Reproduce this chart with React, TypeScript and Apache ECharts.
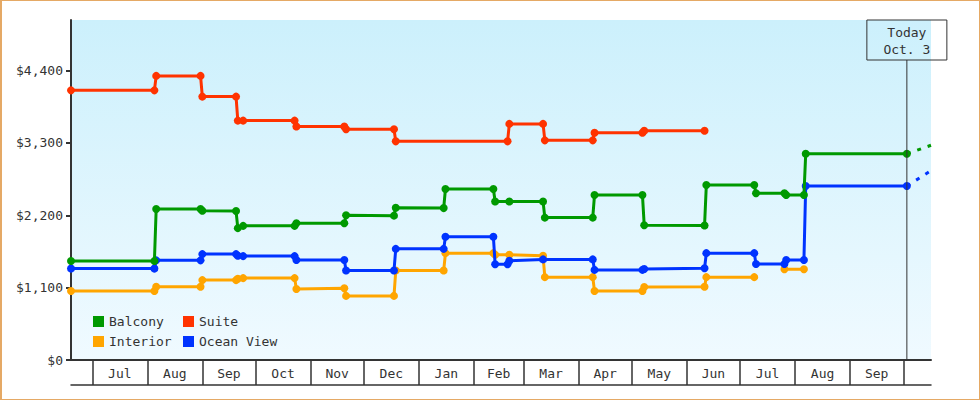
import React, { useEffect, useRef } from "react";
import * as echarts from "echarts";

const FONT = '"DejaVu Sans Mono", monospace';
const TEXT_COLOR = "#333333";

// Axis range
const X_MIN = "2013-06-19 00:00";
const X_MAX = "2014-10-16 14:24";
const TODAY = "2014-10-03";
const TODAY_LABEL = "Today\nOct. 3";
const Y_MAX = 5170;
const Y_TICKS = [0, 1100, 2200, 3300, 4400];
const MONTH_NAMES = ["Jan", "Feb", "Mar", "Apr", "May", "Jun", "Jul", "Aug", "Sep", "Oct", "Nov", "Dec"];
const MONTH_STARTS = [
  "2013-07-01", "2013-08-01", "2013-09-01", "2013-10-01", "2013-11-01", "2013-12-01",
  "2014-01-01", "2014-02-01", "2014-03-01", "2014-04-01", "2014-05-01", "2014-06-01",
  "2014-07-01", "2014-08-01", "2014-09-01", "2014-10-01",
];

// Suite
const suiteDates = [
  "2013-06-19", "2013-08-05", "2013-08-06", "2013-08-31", "2013-09-01", "2013-09-20",
  "2013-09-21", "2013-09-24", "2013-10-23", "2013-10-24", "2013-11-20", "2013-11-21",
  "2013-12-18", "2013-12-19", "2014-02-20", "2014-02-21", "2014-03-12", "2014-03-13",
  "2014-04-09", "2014-04-10", "2014-05-07", "2014-05-08", "2014-06-11",
];
const suitePrices = [
  4100, 4100, 4320, 4320, 4005, 4005,
  3640, 3640, 3640, 3550, 3550, 3510,
  3510, 3325, 3325, 3590, 3590, 3340,
  3340, 3455, 3455, 3485, 3485,
];

// Balcony
const balconyDates = [
  "2013-06-19", "2013-08-05", "2013-08-06", "2013-08-31", "2013-09-01", "2013-09-20",
  "2013-09-21", "2013-09-24", "2013-10-23", "2013-10-24", "2013-11-20", "2013-11-21",
  "2013-12-18", "2013-12-19", "2014-01-15", "2014-01-16", "2014-02-12", "2014-02-13",
  "2014-02-21", "2014-03-12", "2014-03-13", "2014-04-09", "2014-04-10", "2014-05-07",
  "2014-05-08", "2014-06-11", "2014-06-12", "2014-07-09", "2014-07-10", "2014-07-26",
  "2014-07-27", "2014-08-06", "2014-08-07", "2014-10-03",
];
const balconyPrices = [
  1505, 1505, 2295, 2295, 2270, 2265,
  2005, 2040, 2040, 2080, 2080, 2200,
  2195, 2315, 2310, 2600, 2600, 2410,
  2410, 2410, 2165, 2165, 2510, 2510,
  2050, 2045, 2660, 2660, 2535, 2535,
  2510, 2510, 3135, 3135,
];

// Ocean View
const oceanDates = [
  "2013-06-19", "2013-08-05", "2013-08-06", "2013-08-31", "2013-09-01", "2013-09-20",
  "2013-09-21", "2013-09-24", "2013-10-23", "2013-10-24", "2013-11-20", "2013-11-21",
  "2013-12-18", "2013-12-19", "2014-01-15", "2014-01-16", "2014-02-12", "2014-02-13",
  "2014-02-20", "2014-02-21", "2014-03-12", "2014-04-09", "2014-04-10", "2014-05-07",
  "2014-05-08", "2014-06-11", "2014-06-12", "2014-07-09", "2014-07-10", "2014-07-26",
  "2014-07-27", "2014-08-06", "2014-08-07", "2014-10-03",
];
const oceanPrices = [
  1390, 1390, 1515, 1515, 1610, 1610,
  1585, 1580, 1580, 1520, 1520, 1360,
  1360, 1690, 1690, 1875, 1875, 1455,
  1455, 1510, 1530, 1530, 1370, 1370,
  1385, 1395, 1625, 1625, 1460, 1460,
  1520, 1520, 2645, 2645,
];

// Interior (null = no data)
const interiorDates = [
  "2013-06-19", "2013-08-05", "2013-08-06", "2013-08-31", "2013-09-01", "2013-09-20",
  "2013-09-21", "2013-09-24", "2013-10-23", "2013-10-24", "2013-11-20", "2013-11-21",
  "2013-12-18", "2013-12-19", "2014-01-15", "2014-01-16", "2014-02-12", "2014-02-13",
  "2014-02-21", "2014-03-12", "2014-03-13", "2014-04-09", "2014-04-10", "2014-05-07",
  "2014-05-08", "2014-06-11", "2014-06-12", "2014-07-09", "2014-07-18", "2014-07-26",
  "2014-08-06",
];
const interiorPrices = [
  1050, 1050, 1115, 1115, 1215, 1215,
  1235, 1245, 1245, 1080, 1090, 975,
  975, 1360, 1360, 1625, 1625, 1600,
  1600, 1585, 1260, 1260, 1050, 1050,
  1110, 1115, 1260, 1260, null, 1380,
  1380,
];

// Projection after today (dashed)
const projectionDates = [TODAY, X_MAX];
const balconyProjection = [3135, 3265];
const oceanProjection = [2645, 2880];

const COLORS: Record<string, string> = {
  Balcony: "#009900",
  Suite: "#ff3300",
  Interior: "#ffa500",
  "Ocean View": "#0033ff",
};

const toTs = (s: string) => {
  const [datePart, timePart] = s.split(" ");
  const [y, m, d] = datePart.split("-").map(Number);
  let hh = 0, mm = 0;
  if (timePart) [hh, mm] = timePart.split(":").map(Number);
  return new Date(y, m - 1, d, hh, mm).getTime();
};

const zip = (dates: string[], vals: (number | null)[]) =>
  dates.map((d, i) => [toTs(d), vals[i] === null ? "-" : vals[i]]);

export default function App() {
  const ref = useRef<HTMLDivElement>(null);

  useEffect(() => {
    if (!ref.current) return;
    const chart = echarts.init(ref.current, null, { renderer: "svg" });

    const monthStartTs = MONTH_STARTS.map(toTs);
    const labelValues: number[] = [];
    for (let i = 0; i < monthStartTs.length - 1; i++) {
      labelValues.push((monthStartTs[i] + monthStartTs[i + 1]) / 2);
    }
    const xMin = toTs(X_MIN);
    const xMax = toTs(X_MAX);

    const lineSeries = (name: string, data: any[], z: number) => ({
      name,
      type: "line",
      data,
      symbol: "circle",
      symbolSize: 8,
      showAllSymbol: true,
      connectNulls: false,
      z,
      lineStyle: { width: 3, color: COLORS[name] },
      itemStyle: { color: COLORS[name] },
      emphasis: { disabled: true },
    });

    const legendBase = {
      orient: "vertical",
      top: 315,
      padding: 0,
      itemWidth: 11,
      itemHeight: 11,
      itemGap: 7,
      icon: "rect",
      selectedMode: false,
      textStyle: { fontFamily: FONT, fontSize: 13, color: TEXT_COLOR },
    };

    chart.setOption({
      animation: false,
      textStyle: { fontFamily: FONT },
      grid: {
        left: 71,
        right: 49,
        top: 20,
        bottom: 40,
        show: true,
        borderWidth: 0,
        backgroundColor: new echarts.graphic.LinearGradient(0, 0, 0, 1, [
          { offset: 0, color: "#ccf0fc" },
          { offset: 1, color: "#f0faff" },
        ]),
      },
      legend: [
        { ...legendBase, left: 93, data: ["Balcony", "Interior"] },
        { ...legendBase, left: 183, data: ["Suite", "Ocean View"] },
      ],
      xAxis: [
        {
          type: "value",
          min: xMin,
          max: xMax,
          position: "bottom",
          axisLine: { show: true, lineStyle: { color: TEXT_COLOR, width: 2 } },
          axisTick: {
            show: true,
            length: 25,
            customValues: monthStartTs,
            lineStyle: { color: TEXT_COLOR, width: 1.5 },
          },
          axisLabel: {
            customValues: labelValues,
            margin: 7,
            color: TEXT_COLOR,
            fontFamily: FONT,
            fontSize: 13,
            formatter: (v: number) => MONTH_NAMES[new Date(v).getMonth()],
          },
          splitLine: { show: false },
        },
        {
          type: "value",
          min: xMin,
          max: xMax,
          position: "bottom",
          offset: 25,
          axisLine: { show: true, lineStyle: { color: TEXT_COLOR, width: 1.5 } },
          axisTick: { show: false },
          axisLabel: { show: false },
          splitLine: { show: false },
        },
      ],
      yAxis: {
        type: "value",
        min: 0,
        max: Y_MAX,
        axisLine: { show: true, lineStyle: { color: TEXT_COLOR, width: 2 } },
        axisTick: {
          show: true,
          length: 5,
          customValues: Y_TICKS,
          lineStyle: { color: TEXT_COLOR, width: 2 },
        },
        axisLabel: {
          customValues: Y_TICKS,
          margin: 8,
          color: TEXT_COLOR,
          fontFamily: FONT,
          fontSize: 13,
          formatter: (v: number) => "$" + v.toLocaleString("en-US"),
        },
        splitLine: { show: false },
      },
      series: [
        {
          name: "Balcony projection",
          type: "line",
          data: zip(projectionDates, balconyProjection),
          showSymbol: false,
          z: 1,
          lineStyle: { width: 3, color: COLORS.Balcony, type: [4, 7] },
          emphasis: { disabled: true },
        },
        {
          name: "Ocean View projection",
          type: "line",
          data: zip(projectionDates, oceanProjection),
          showSymbol: false,
          z: 1,
          lineStyle: { width: 3, color: COLORS["Ocean View"], type: [4, 7] },
          emphasis: { disabled: true },
        },
        lineSeries("Interior", zip(interiorDates, interiorPrices), 2),
        lineSeries("Ocean View", zip(oceanDates, oceanPrices), 3),
        lineSeries("Balcony", zip(balconyDates, balconyPrices), 4),
        lineSeries("Suite", zip(suiteDates, suitePrices), 5),
      ],
    });

    // "Today" marker placed through the chart's own scales
    const todayX = chart.convertToPixel({ xAxisIndex: 0 }, toTs(TODAY)) as number;
    const yBottom = chart.convertToPixel({ yAxisIndex: 0 }, 0) as number;
    const yTop = chart.convertToPixel({ yAxisIndex: 0 }, Y_MAX) as number;
    const boxH = 40;
    chart.setOption({
      graphic: [
        {
          type: "line",
          z: 100,
          shape: { x1: todayX, y1: yTop + boxH, x2: todayX, y2: yBottom },
          style: { stroke: TEXT_COLOR, lineWidth: 1 },
        },
        {
          type: "rect",
          z: 100,
          shape: { x: todayX - 40, y: yTop, width: 80, height: boxH },
          style: { fill: "none", stroke: TEXT_COLOR, lineWidth: 1 },
        },
        {
          type: "text",
          z: 101,
          x: todayX,
          y: yTop + boxH / 2 + 1,
          style: {
            text: TODAY_LABEL,
            align: "center",
            verticalAlign: "middle",
            font: `13px ${FONT}`,
            lineHeight: 17,
            fill: TEXT_COLOR,
          },
        },
      ],
    });

    return () => chart.dispose();
  }, []);

  return (
    <div
      style={{
        position: "fixed",
        left: 0,
        top: 0,
        width: 980,
        height: 400,
        boxSizing: "border-box",
        border: "1px solid #e5a965",
        borderLeftWidth: 2,
        background: "#ffffff",
      }}
    >
      <div ref={ref} style={{ position: "absolute", left: -2, top: -1, width: 980, height: 400 }} />
    </div>
  );
}
